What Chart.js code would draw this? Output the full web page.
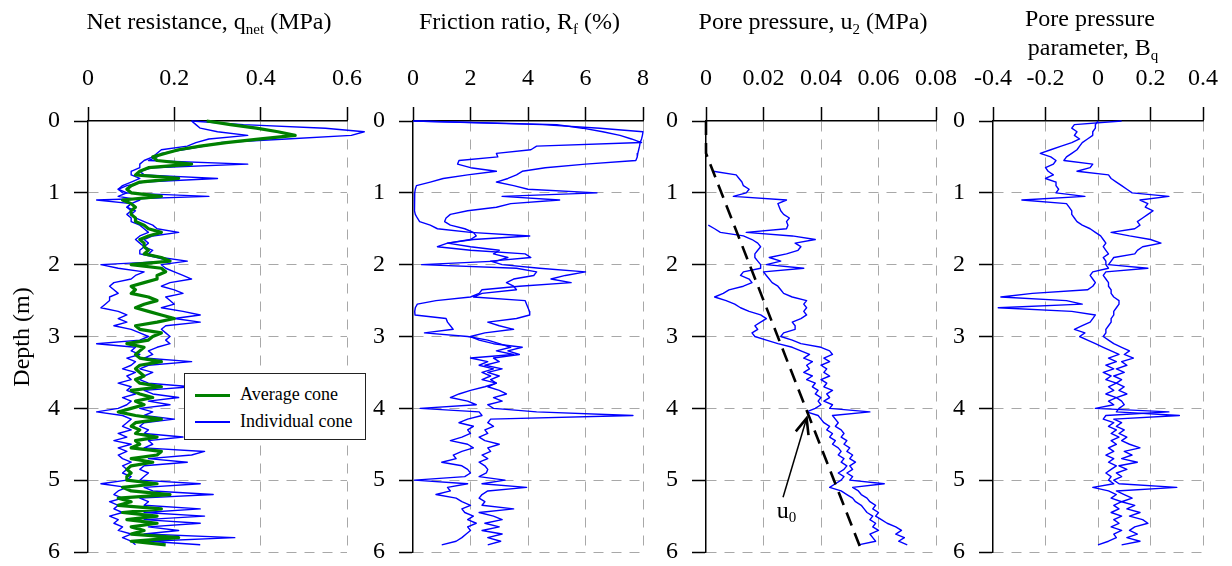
<!DOCTYPE html>
<html>
<head>
<meta charset="utf-8">
<title>CPT profiles</title>
<script src="https://cdn.jsdelivr.net/npm/chart.js@4.4.1/dist/chart.umd.min.js"></script>
<style>
  html, body { margin: 0; padding: 0; background: #fff; }
  #fig { position: relative; width: 1232px; height: 566px; overflow: hidden;
         font-family: 'Liberation Serif', 'Times New Roman', Times, serif; color: #000; }
  #fig canvas { position: absolute; left: 0; top: 0; }
  .ttl { position: absolute; width: 320px; text-align: center; font-size: 24px;
         line-height: 24px; white-space: nowrap; }
  .ttl sub { font-size: 15px; vertical-align: -5px; line-height: 0; }
  #ylab { position: absolute; left: -79px; top: 325px; width: 200px; height: 24px;
          line-height: 24px; font-size: 24px; text-align: center; white-space: nowrap;
          transform: rotate(-90deg); transform-origin: 50% 50%; }
  #legend { position: absolute; left: 184px; top: 373px; width: 180px; height: 65px;
            border: 1.5px solid #222; background: #fff; }
  #legend .ln { position: absolute; left: 10px; width: 35px; }
  #legend .tx { position: absolute; left: 55px; font-size: 18px; line-height: 18px; white-space: nowrap; }
</style>
</head>
<body>
<div id="fig">
  <canvas id="p1" width="1232" height="566"></canvas>
  <canvas id="p2" width="1232" height="566"></canvas>
  <canvas id="p3" width="1232" height="566"></canvas>
  <canvas id="p4" width="1232" height="566"></canvas>

  <div class="ttl" style="left:49px;top:9px">Net resistance, q<sub>net</sub> (MPa)</div>
  <div class="ttl" style="left:359.5px;top:9px">Friction ratio, R<sub>f</sub> (%)</div>
  <div class="ttl" style="left:653px;top:9px">Pore pressure, u<sub>2</sub> (MPa)</div>
  <div class="ttl" style="left:930px;top:6px">Pore pressure</div>
  <div class="ttl" style="left:933px;top:35px">parameter, B<sub>q</sub></div>
  <div id="ylab">Depth (m)</div>

  <div id="legend">
    <div class="ln" style="top:20px;height:3px;background:#008000"></div>
    <div class="tx" style="top:11px">Average cone</div>
    <div class="ln" style="top:47px;height:2px;background:#0000ff"></div>
    <div class="tx" style="top:37.5px">Individual cone</div>
  </div>
</div>

<script>
// ---- depth sampling of the soundings (m) ----
const depths = [
  0, 0.05, 0.1, 0.15, 0.2, 0.25, 0.3, 0.35, 0.4, 0.45,
  0.5, 0.55, 0.6, 0.65, 0.7, 0.75, 0.8, 0.85, 0.9, 0.95,
  1, 1.05, 1.1, 1.15, 1.2, 1.25, 1.3, 1.35, 1.4, 1.45,
  1.5, 1.55, 1.6, 1.65, 1.7, 1.75, 1.8, 1.85, 1.9, 1.95,
  2, 2.05, 2.1, 2.15, 2.2, 2.25, 2.3, 2.35, 2.4, 2.45,
  2.5, 2.55, 2.6, 2.65, 2.7, 2.75, 2.8, 2.85, 2.9, 2.95,
  3, 3.05, 3.1, 3.15, 3.2, 3.25, 3.3, 3.35, 3.4, 3.45,
  3.5, 3.55, 3.6, 3.65, 3.7, 3.75, 3.8, 3.85, 3.9, 3.95,
  4, 4.05, 4.1, 4.15, 4.2, 4.25, 4.3, 4.35, 4.4, 4.45,
  4.5, 4.55, 4.6, 4.65, 4.7, 4.75, 4.8, 4.85, 4.9, 4.95,
  5, 5.05, 5.1, 5.15, 5.2, 5.25, 5.3, 5.35, 5.4, 5.45,
  5.5, 5.55, 5.6, 5.65, 5.7, 5.75, 5.8, 5.85, 5.9
];

// ---- net cone resistance q_net (MPa) ----
const qnetAverage = [
  0.275,0.33,0.39,0.44,0.48,0.40,0.32,0.26,0.21,0.18,
  0.15,0.16,0.24,0.14,0.12,0.11,0.21,0.12,0.10,0.09,
  0.10,0.17,0.08,0.10,0.11,0.10,0.10,0.11,0.11,0.13,
  0.14,0.17,0.14,0.12,0.13,0.13,0.14,0.13,0.17,0.19,
  0.10,0.17,0.18,0.16,0.16,0.13,0.10,0.11,0.10,0.14,
  0.16,0.13,0.11,0.14,0.17,0.20,0.16,0.11,0.12,0.17,
  0.15,0.14,0.09,0.13,0.12,0.11,0.12,0.17,0.12,0.11,
  0.12,0.13,0.11,0.12,0.17,0.10,0.12,0.15,0.11,0.13,
  0.10,0.07,0.11,0.17,0.11,0.10,0.12,0.11,0.16,0.11,
  0.12,0.10,0.17,0.16,0.10,0.15,0.10,0.09,0.10,0.09,
  0.09,0.16,0.08,0.10,0.19,0.07,0.10,0.07,0.17,0.08,
  0.16,0.09,0.16,0.10,0.13,0.10,0.21,0.10,0.18
];
const qnetConeA = [
  0.24,0.25,0.26,0.30,0.37,0.28,0.25,0.23,0.17,0.16,
  0.15,0.13,0.12,0.12,0.10,0.10,0.12,0.10,0.08,0.07,
  0.09,0.07,0.12,0.10,0.09,0.10,0.09,0.10,0.10,0.12,
  0.13,0.14,0.12,0.11,0.12,0.13,0.12,0.12,0.16,0.19,
  0.03,0.07,0.13,0.11,0.10,0.06,0.05,0.06,0.07,0.05,
  0.05,0.04,0.03,0.07,0.09,0.07,0.09,0.06,0.10,0.12,
  0.14,0.12,0.02,0.11,0.10,0.12,0.09,0.11,0.10,0.08,
  0.11,0.09,0.10,0.07,0.10,0.09,0.11,0.08,0.10,0.09,
  0.07,0.02,0.08,0.10,0.09,0.08,0.10,0.07,0.09,0.06,
  0.10,0.07,0.09,0.07,0.08,0.10,0.08,0.09,0.08,0.10,
  0.09,0.03,0.09,0.07,0.06,0.08,0.05,0.07,0.06,0.08,
  0.05,0.07,0.06,0.08,0.07,0.10,0.08,0.10,0.11
];
const qnetConeB = [
  0.24,0.36,0.55,0.64,0.61,0.46,0.31,0.27,0.22,0.17,
  0.16,0.14,0.37,0.15,0.12,0.13,0.30,0.13,0.09,0.07,
  0.08,0.28,0.02,0.10,0.09,0.11,0.10,0.11,0.13,0.15,
  0.16,0.21,0.15,0.13,0.14,0.13,0.15,0.14,0.17,0.23,
  0.17,0.18,0.20,0.22,0.24,0.19,0.17,0.20,0.22,0.18,
  0.19,0.20,0.17,0.22,0.26,0.20,0.26,0.18,0.17,0.18,
  0.19,0.18,0.19,0.16,0.14,0.15,0.13,0.24,0.14,0.12,
  0.15,0.13,0.12,0.14,0.24,0.13,0.15,0.21,0.14,0.19,
  0.12,0.15,0.13,0.20,0.13,0.12,0.14,0.13,0.22,0.14,
  0.15,0.13,0.27,0.24,0.14,0.23,0.13,0.12,0.14,0.13,
  0.12,0.26,0.13,0.15,0.29,0.12,0.14,0.13,0.26,0.13,
  0.27,0.13,0.26,0.14,0.21,0.13,0.34,0.14,0.26
];

// ---- friction ratio R_f (%) ----
const rfConeA = [
  0.05,4.5,6.5,8.0,7.98,7.95,7.9,7.88,7.85,7.82,
  7.8,7.75,6.0,4.6,3.8,3.6,3.3,2.9,3.5,4.0,
  6.4,3.1,5.1,3.4,2.9,1.9,1.3,1.15,1.1,1.3,
  1.8,2.1,2.2,2.0,1.2,0.85,2.0,3.9,4.1,2.7,
  3.1,4.4,6.0,5.3,4.8,5.5,3.7,2.4,2.3,2.0,
  0.8,0.15,0.08,0.06,0.07,1.15,1.2,1.3,1.4,0.4,
  1.9,2.6,3.0,3.4,2.9,3.5,2.0,2.6,2.3,2.8,
  2.4,2.7,2.4,2.9,2.5,2.0,1.6,1.3,1.9,2.2,
  0.25,2.3,2.4,1.9,1.6,2.1,1.9,2.0,1.7,1.3,
  1.9,2.1,1.7,1.4,1.5,1.0,1.7,1.9,2.0,1.8,
  0.05,1.9,1.2,1.3,0.8,1.5,1.7,2.0,1.7,1.8,
  2.1,1.9,2.2,1.9,2.0,1.85,1.7,1.5,1.0
];
const rfConeB = [
  0.0,5.0,5.9,6.6,7.2,7.6,7.95,4.3,4.1,2.9,
  2.95,1.6,1.55,2.0,2.9,1.9,1.05,0.6,0.12,0.08,
  0.06,0.06,0.05,0.05,0.05,0.05,0.08,0.15,0.23,0.6,
  0.85,2.0,4.06,2.1,1.2,2.0,3.0,2.8,3.3,2.9,
  0.3,3.6,4.3,4.2,3.5,3.25,3.5,3.6,2.4,2.1,
  3.9,3.95,4.0,4.05,4.06,3.6,2.6,3.0,3.5,2.5,
  2.0,2.3,2.8,3.8,3.3,3.7,2.8,3.0,2.5,3.1,
  2.6,3.0,2.7,2.9,2.6,3.0,3.25,2.8,3.1,2.6,
  2.8,4.3,7.65,2.7,2.6,2.8,2.5,2.6,2.3,2.5,
  3.0,2.6,2.7,2.4,2.6,2.3,2.5,2.6,2.55,2.3,
  3.2,2.4,3.95,2.6,2.4,2.3,2.5,2.4,3.5,2.3,
  2.8,3.1,2.5,3.0,2.4,3.1,2.6,3.05,2.6
];

// ---- pore pressure u_2 (MPa); null where no reading was logged ----
const u2ConeA = [
  null,null,null,null,null,null,null,null,null,null,
  null,null,null,null,0.0025,0.0105,0.0115,0.0125,0.013,0.015,
  0.014,0.0095,0.028,0.025,0.0255,0.026,0.027,0.029,0.028,0.0285,
  0.028,0.014,0.030,0.038,0.031,0.033,0.032,0.028,0.022,0.026,
  0.021,0.034,0.020,0.021,0.022,0.023,0.025,0.026,0.027,0.030,
  0.035,0.034,0.035,0.034,0.035,0.033,0.030,0.031,0.031,0.027,
  0.026,0.030,0.033,0.040,0.043,0.044,0.041,0.043,0.040,0.042,
  0.041,0.043,0.040,0.042,0.041,0.044,0.042,0.043,0.041,0.044,
  0.043,0.057,0.044,0.045,0.046,0.045,0.047,0.048,0.047,0.049,
  0.048,0.050,0.049,0.051,0.050,0.052,0.050,0.051,0.049,0.051,
  0.050,0.062,0.051,0.053,0.054,0.056,0.057,0.059,0.058,0.060,
  0.059,0.061,0.063,0.066,0.068,0.066,0.069,0.067,0.070
];
const u2ConeB = [
  null,null,null,null,null,null,null,null,null,null,
  null,null,null,null,null,null,null,null,null,null,
  null,null,null,null,null,null,null,null,null,0.0008,
  0.003,0.005,0.013,0.016,0.018,0.019,0.018,0.017,0.017,0.018,
  0.019,0.019,0.013,0.012,0.015,0.016,0.013,0.008,0.006,0.003,
  0.007,0.010,0.012,0.015,0.019,0.021,0.019,0.017,0.018,0.016,
  0.017,0.021,0.025,0.030,0.033,0.036,0.034,0.037,0.035,0.036,
  0.034,0.037,0.035,0.038,0.037,0.039,0.038,0.040,0.039,0.040,
  0.038,0.035,0.039,0.040,0.041,0.043,0.042,0.044,0.043,0.045,
  0.044,0.046,0.047,0.046,0.048,0.047,0.049,0.048,0.046,0.048,
  0.047,0.045,0.043,0.047,0.049,0.051,0.052,0.054,0.055,0.056,
  0.058,0.057,0.059,0.058,0.060,0.057,0.058,0.059,0.053
];
// hydrostatic pore pressure u_0 below the water table
const u0Pressure = [0, 0, 0.0535];
const u0Depth = [0, 0.45, 5.92];

// ---- pore pressure parameter B_q ----
const bqConeA = [
  0.09,-0.09,-0.10,-0.08,-0.09,-0.07,-0.10,-0.14,-0.18,-0.22,
  -0.18,-0.16,-0.17,-0.20,-0.19,-0.17,-0.20,-0.16,-0.16,-0.15,
  -0.16,-0.05,-0.29,-0.12,-0.11,-0.10,-0.10,-0.09,-0.08,-0.06,
  -0.03,-0.01,0.01,0.02,0.03,0.02,0.03,0.04,0.02,0.03,
  0.03,0.04,-0.02,-0.03,-0.02,-0.01,-0.02,-0.04,-0.25,-0.37,
  -0.12,-0.06,-0.38,-0.10,-0.01,-0.02,-0.03,-0.06,-0.09,-0.05,
  -0.07,-0.04,-0.01,0.02,0.05,0.08,0.04,0.07,0.03,0.06,
  0.02,0.05,0.03,0.07,0.04,0.06,0.03,0.07,0.04,0.06,
  -0.01,0.27,0.03,0.02,0.06,0.04,0.07,0.05,0.08,0.05,
  0.07,0.04,0.06,0.03,0.06,0.04,0.07,0.05,0.03,0.05,
  0.04,0.06,-0.02,0.04,0.07,0.05,0.09,0.06,0.08,0.05,
  0.09,0.06,0.08,0.05,0.09,0.06,0.07,0.04,0.00
];
const bqConeB = [
  0.00,-0.01,-0.01,-0.02,-0.02,-0.04,-0.06,-0.07,-0.08,-0.10,
  -0.12,-0.13,-0.02,-0.03,-0.08,0.04,0.05,0.07,0.09,0.11,
  0.13,0.27,0.16,0.19,0.18,0.21,0.19,0.17,0.15,0.16,
  0.14,0.05,0.12,0.20,0.24,0.17,0.15,0.14,0.06,0.05,
  0.04,0.19,0.03,0.02,0.03,0.04,0.04,0.05,0.05,0.06,
  0.08,0.08,0.07,0.06,0.06,0.05,0.05,0.04,0.03,0.03,
  0.02,0.04,0.06,0.09,0.12,0.10,0.135,0.09,0.11,0.07,
  0.10,0.06,0.09,0.07,0.10,0.08,0.11,0.07,0.09,0.10,
  0.08,0.07,0.31,0.06,0.09,0.07,0.10,0.08,0.11,0.09,
  0.12,0.16,0.10,0.13,0.09,0.15,0.08,0.11,0.07,0.09,
  0.06,0.08,0.30,0.07,0.10,0.13,0.09,0.14,0.11,0.16,
  0.12,0.17,0.19,0.14,0.12,0.15,0.11,0.16,0.09
];

// ---- axis ticks ----
const depthTicks = [0, 1, 2, 3, 4, 5, 6];
const depthLabels = ['0', '1', '2', '3', '4', '5', '6'];
const qnetTicks = [0, 0.2, 0.4, 0.6];
const qnetLabels = ['0', '0.2', '0.4', '0.6'];
const rfTicks = [0, 2, 4, 6, 8];
const rfLabels = ['0', '2', '4', '6', '8'];
const u2Ticks = [0, 0.02, 0.04, 0.06, 0.08];
const u2Labels = ['0', '0.02', '0.04', '0.06', '0.08'];
const bqTicks = [-0.4, -0.2, 0, 0.2, 0.4];
const bqLabels = ['-0.4', '-0.2', '0', '0.2', '0.4'];

// u0 call-out: arrow tail/tip and label anchor in data units (MPa, m)
const u0ArrowTail = [0.0268, 5.238];
const u0ArrowTip = [0.0350, 4.138];
const u0LabelAt = [0.0246, 5.53];

// ---- drawing ----
const FONT = "'Liberation Serif', 'Times New Roman', Times, serif";
const BLUE = '#0000ff';
const GREEN = '#008000';
const GRID = '#a8a8a8';
const W = 1232, H = 566;
const PLOT_TOP = 121, PLOT_BOTTOM = 552, Y_AXIS_W = 60;

function profile(values) {
  const pts = [];
  values.forEach((v, i) => { if (v !== null) pts.push({ x: v, y: depths[i] }); });
  return pts;
}

function trace(values, color, width) {
  return {
    data: profile(values), borderColor: color, borderWidth: width,
    showLine: true, pointRadius: 0, pointHoverRadius: 0, tension: 0,
    clip: false, borderJoinStyle: 'round'
  };
}

function tickFont() { return { family: FONT, size: 24, lineHeight: 1 }; }

function makePanel(id, o) {
  return new Chart(document.getElementById(id), {
    type: 'scatter',
    data: { datasets: o.datasets },
    options: {
      responsive: false, animation: false, events: [],
      layout: { padding: { left: o.left - Y_AXIS_W, right: W - o.right, top: 0, bottom: H - PLOT_BOTTOM } },
      plugins: { legend: { display: false }, tooltip: { enabled: false } },
      scales: {
        x: {
          type: 'linear', position: 'top', min: o.min, max: o.max,
          // fixed band above the plot; end labels may overhang the margins
          afterFit: s => { s.height = PLOT_TOP; s.paddingLeft = 0; s.paddingRight = 0; },
          afterBuildTicks: s => { s.ticks = o.ticks.map(v => ({ value: v })); },
          ticks: { callback: (v, i) => o.labels[i], font: tickFont(), color: '#000',
                   padding: 16, autoSkip: false, maxRotation: 0, minRotation: 0 },
          grid: { color: c => (c.tick && c.tick.value === o.min) ? 'rgba(0,0,0,0)' : GRID,
                  lineWidth: 1, tickColor: '#000', tickLength: 14, tickWidth: 1.5 },
          border: { color: '#000', width: 1.5, dash: [10, 8] }
        },
        y: {
          type: 'linear', position: 'left', reverse: true, min: 0, max: 6,
          afterFit: s => { s.width = Y_AXIS_W; s.paddingTop = 0; s.paddingBottom = 0; },
          afterBuildTicks: s => { s.ticks = depthTicks.map(v => ({ value: v })); },
          ticks: { callback: (v, i) => depthLabels[i], font: tickFont(), color: '#000',
                   padding: 14, autoSkip: false },
          grid: { color: c => (c.tick && c.tick.value === 0) ? 'rgba(0,0,0,0)' : GRID,
                  lineWidth: 1, tickColor: '#000', tickLength: 14, tickWidth: 1.5 },
          border: { color: '#000', width: 1.5, dash: [10, 8] }
        }
      }
    },
    plugins: o.plugins || []
  });
}

// arrow and label pointing at the hydrostatic line
const u0Callout = {
  id: 'u0Callout',
  afterDatasetsDraw(chart) {
    const { ctx, scales: { x, y } } = chart;
    const sx = x.getPixelForValue(u0ArrowTail[0]), sy = y.getPixelForValue(u0ArrowTail[1]);
    const tx = x.getPixelForValue(u0ArrowTip[0]), ty = y.getPixelForValue(u0ArrowTip[1]);
    const ang = Math.atan2(ty - sy, tx - sx);
    const L = 17, a = 0.4;
    ctx.save();
    ctx.strokeStyle = '#000';
    ctx.lineWidth = 1.5;
    ctx.beginPath(); ctx.moveTo(sx, sy); ctx.lineTo(tx, ty); ctx.stroke();
    ctx.lineWidth = 2.6;
    ctx.lineJoin = 'miter';
    ctx.beginPath();
    ctx.moveTo(tx - L * Math.cos(ang - a), ty - L * Math.sin(ang - a));
    ctx.lineTo(tx, ty);
    ctx.lineTo(tx - L * Math.cos(ang + a), ty - L * Math.sin(ang + a));
    ctx.stroke();
    const lx = x.getPixelForValue(u0LabelAt[0]), ly = y.getPixelForValue(u0LabelAt[1]);
    ctx.fillStyle = '#000';
    ctx.textBaseline = 'alphabetic';
    ctx.textAlign = 'left';
    ctx.font = '24px ' + FONT;
    ctx.fillText('u', lx, ly);
    const w = ctx.measureText('u').width;
    ctx.font = '15px ' + FONT;
    ctx.fillText('0', lx + w, ly + 4);
    ctx.restore();
  }
};

makePanel('p1', {
  left: 88, right: 347, min: 0, max: 0.6, ticks: qnetTicks, labels: qnetLabels,
  datasets: [
    trace(qnetAverage, GREEN, 3.2),
    trace(qnetConeA, BLUE, 1.4),
    trace(qnetConeB, BLUE, 1.4)
  ]
});

makePanel('p2', {
  left: 413, right: 643, min: 0, max: 8, ticks: rfTicks, labels: rfLabels,
  datasets: [trace(rfConeA, BLUE, 1.4), trace(rfConeB, BLUE, 1.4)]
});

const u0Line = {
  data: u0Pressure.map((v, i) => ({ x: v, y: u0Depth[i] })),
  borderColor: '#000', borderWidth: 2.6, borderDash: [14, 8],
  showLine: true, pointRadius: 0, pointHoverRadius: 0, tension: 0, clip: false
};
makePanel('p3', {
  left: 706, right: 936, min: 0, max: 0.08, ticks: u2Ticks, labels: u2Labels,
  datasets: [u0Line, trace(u2ConeA, BLUE, 1.4), trace(u2ConeB, BLUE, 1.4)],
  plugins: [u0Callout]
});

makePanel('p4', {
  left: 993, right: 1203, min: -0.4, max: 0.4, ticks: bqTicks, labels: bqLabels,
  datasets: [trace(bqConeA, BLUE, 1.4), trace(bqConeB, BLUE, 1.4)]
});
</script>
</body>
</html>
